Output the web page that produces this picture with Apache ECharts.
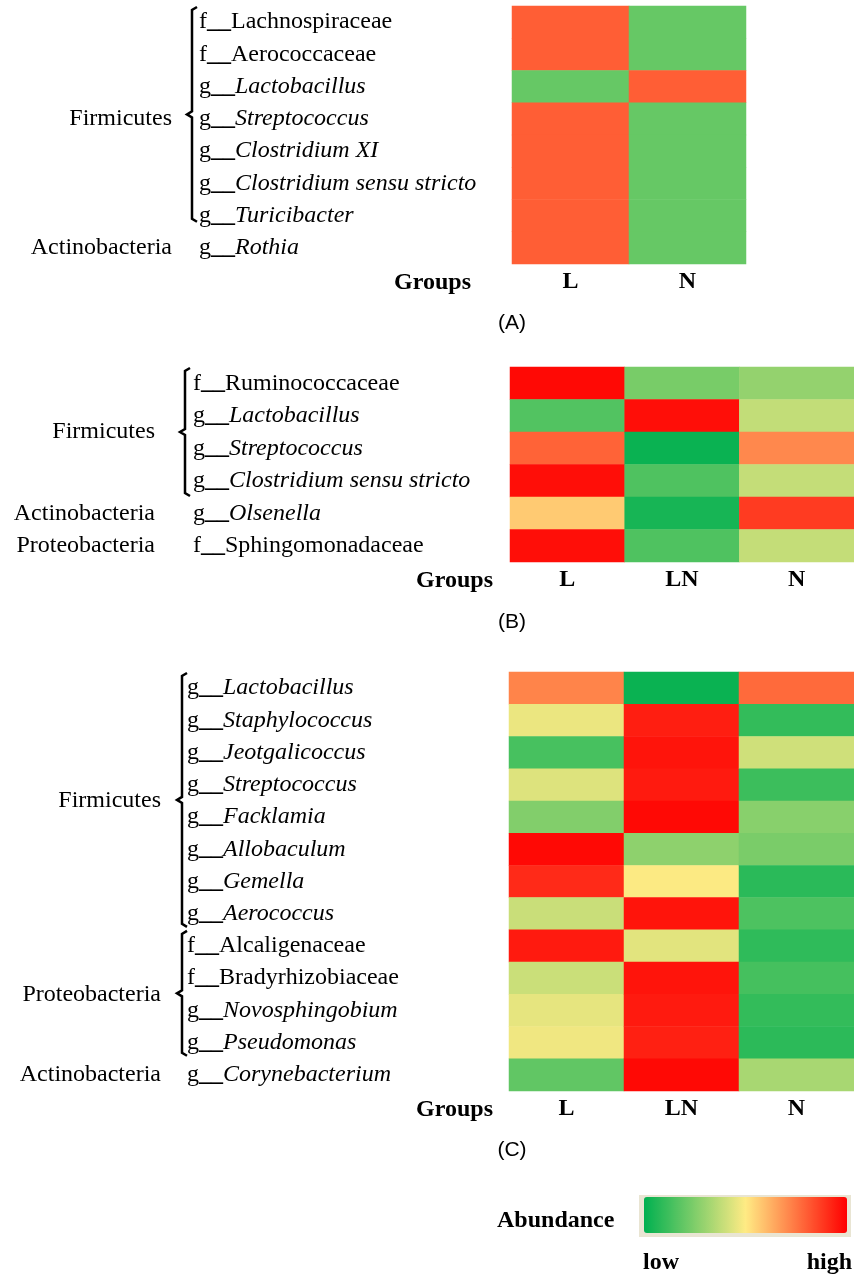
<!DOCTYPE html>
<html><head><meta charset="utf-8">
<script src="https://cdn.jsdelivr.net/npm/echarts@6/dist/echarts.min.js"></script>
<style>html,body{margin:0;padding:0;background:#fff}#c{width:854px;height:1278px}</style>
</head><body><div id="c"></div>
<script>
// ---------- data ----------
const groupsA = ['L', 'N'];
const rowsA = ['f__Lachnospiraceae', 'f__Aerococcaceae', 'g__Lactobacillus', 'g__Streptococcus',
  'g__Clostridium XI', 'g__Clostridium sensu stricto', 'g__Turicibacter', 'g__Rothia'];
const valuesA_L = [0.8, 0.8, 0.2, 0.8, 0.8, 0.8, 0.8, 0.8];
const valuesA_N = [0.2, 0.2, 0.8, 0.2, 0.2, 0.2, 0.2, 0.2];
const phylaA = [['Firmicutes', 0, 6], ['Actinobacteria', 7, 7]];

const groupsB = ['L', 'LN', 'N'];
const rowsB = ['f__Ruminococcaceae', 'g__Lactobacillus', 'g__Streptococcus',
  'g__Clostridium sensu stricto', 'g__Olsenella', 'f__Sphingomonadaceae'];
const valuesB_L = [0.98, 0.16, 0.79, 0.97, 0.57, 0.97];
const valuesB_LN = [0.235, 0.97, 0.02, 0.155, 0.045, 0.155];
const valuesB_N = [0.29, 0.38, 0.71, 0.385, 0.875, 0.385];
const phylaB = [['Firmicutes', 0, 3], ['Actinobacteria', 4, 4], ['Proteobacteria', 5, 5]];

const groupsC = ['L', 'LN', 'N'];
const rowsC = ['g__Lactobacillus', 'g__Staphylococcus', 'g__Jeotgalicoccus', 'g__Streptococcus',
  'g__Facklamia', 'g__Allobaculum', 'g__Gemella', 'g__Aerococcus', 'f__Alcaligenaceae',
  'f__Bradyrhizobiaceae', 'g__Novosphingobium', 'g__Pseudomonas', 'g__Corynebacterium'];
const valuesC_L = [0.72, 0.46, 0.14, 0.433, 0.255, 0.98, 0.91, 0.394, 0.945, 0.397, 0.45, 0.47, 0.19];
const valuesC_LN = [0.02, 0.936, 0.957, 0.945, 0.98, 0.278, 0.494, 0.957, 0.443, 0.957, 0.945, 0.932, 0.98];
const valuesC_N = [0.775, 0.1, 0.405, 0.118, 0.267, 0.24, 0.082, 0.15, 0.092, 0.135, 0.1, 0.086, 0.33];
const phylaC = [['Firmicutes', 0, 7], ['Proteobacteria', 8, 11], ['Actinobacteria', 12, 12]];

const panelTags = ['(A)', '(B)', '(C)'];
const axisTitle = 'Groups';
const legendTitle = 'Abundance';
const legendEnds = ['low', 'high'];
const scaleColors = ['#00b050', '#ffeb84', '#ff0000'];

// ---------- layout ----------
const SERIF = '"Liberation Serif", "Times New Roman", serif';
const SANS = '"Liberation Sans", Arial, sans-serif';
const panels = [
  { groups: groupsA, rows: rowsA, vals: [valuesA_L, valuesA_N], phyla: phylaA,
    grid: { left: 512, top: 6, width: 234, height: 258 }, labelX: 199, braceX: 192, phylumRight: 172, groupsRight: 471, tagY: 323, braceTopInset: 1, braceBottomInset: 10 },
  { groups: groupsB, rows: rowsB, vals: [valuesB_L, valuesB_LN, valuesB_N], phyla: phylaB,
    grid: { left: 510, top: 367, width: 348, height: 195 }, labelX: 193, braceX: 185, phylumRight: 155, groupsRight: 493, tagY: 622, braceTopInset: 1, braceBottomInset: 1 },
  { groups: groupsC, rows: rowsC, vals: [valuesC_L, valuesC_LN, valuesC_N], phyla: phylaC,
    grid: { left: 509, top: 672, width: 348, height: 419 }, labelX: 187, braceX: 182, phylumRight: 161, groupsRight: 493, tagY: 1150, braceTopInset: 1, braceBottomInset: 3 }
];

function fmt(v) {
  const p = v.slice(0, 1), rest = v.slice(3);
  return p === 'g' ? '{n|g}{u|__}{i|' + rest + '}' : '{n|f}{u|__}{n|' + rest + '}';
}
const rich = {
  n: { fontFamily: SERIF, fontSize: 24, color: '#000' },
  u: { fontFamily: SERIF, fontSize: 24, color: '#000', fontWeight: 'bold' },
  i: { fontFamily: SERIF, fontSize: 24, color: '#000', fontStyle: 'italic' }
};

const option = {
  backgroundColor: '#fff',
  animation: false,
  grid: panels.map(p => Object.assign({ containLabel: false }, p.grid)),
  xAxis: panels.map((p, k) => ({
    type: 'category', gridIndex: k, data: p.groups, position: 'bottom',
    axisLine: { show: false }, axisTick: { show: false }, splitLine: { show: false },
    axisLabel: { margin: 6, fontFamily: SERIF, fontSize: 24, fontWeight: 'bold', color: '#000' }
  })),
  yAxis: panels.map((p, k) => ({
    type: 'category', gridIndex: k, data: p.rows, inverse: true,
    axisLine: { show: false }, axisTick: { show: false }, splitLine: { show: false },
    axisLabel: { interval: 0, align: 'left', margin: p.grid.left - p.labelX, formatter: fmt, rich: rich }
  })),
  visualMap: {
    type: 'continuous', min: 0, max: 1, seriesIndex: [0, 1, 2],
    orient: 'horizontal', left: 639, top: 1195,
    itemWidth: 36, itemHeight: 203, text: null, calculable: false, hoverLink: false,
    padding: [2, 4, 4, 5], backgroundColor: '#e9e5d3',
    inRange: { color: scaleColors }
  },
  series: panels.map((p, k) => {
    const data = [];
    p.vals.forEach((col, j) => col.forEach((v, i) => data.push([j, i, v])));
    return { type: 'heatmap', xAxisIndex: k, yAxisIndex: k, data: data,
      itemStyle: { borderWidth: 0 }, emphasis: { disabled: true } };
  })
};

const chart = echarts.init(document.getElementById('c'), null, { renderer: 'canvas' });
chart.setOption(option);

// ---------- annotations tied to the axes ----------
const g = [];
panels.forEach((p, k) => {
  const c0 = chart.convertToPixel({ xAxisIndex: k, yAxisIndex: k }, [0, 0]);
  const c1 = chart.convertToPixel({ xAxisIndex: k, yAxisIndex: k }, [0, 1]);
  const h = c1[1] - c0[1];
  const rowY = i => chart.convertToPixel({ xAxisIndex: k, yAxisIndex: k }, [0, i])[1];
  p.phyla.forEach(([name, from, to]) => {
    const mid = (rowY(from) + rowY(to)) / 2;
    g.push({ type: 'text', x: p.phylumRight, y: mid,
      style: { text: name, font: '24px ' + SERIF, fill: '#000', align: 'right', verticalAlign: 'middle' } });
    if (to > from) {
      const x = p.braceX;
      const t = rowY(from) - h / 2 + p.braceTopInset;
      const b = rowY(to) + h / 2 - p.braceBottomInset;
      const m = (t + b) / 2;
      g.push({ type: 'polyline',
        shape: { points: [[x + 5, t], [x, t + 3], [x, m - 3], [x - 5, m], [x, m + 3], [x, b - 3], [x + 5, b]] },
        style: { stroke: '#000', lineWidth: 2.5, fill: null } });
    }
  });
  const bottom = p.grid.top + p.grid.height;
  g.push({ type: 'text', x: p.groupsRight, y: bottom + 19,
    style: { text: axisTitle, font: 'bold 24px ' + SERIF, fill: '#000', align: 'right', verticalAlign: 'middle' } });
  g.push({ type: 'text', x: 512, y: p.tagY,
    style: { text: panelTags[k], font: '21px ' + SANS, fill: '#000', align: 'center', verticalAlign: 'middle' } });
});
g.push({ type: 'text', x: 497, y: 1221,
  style: { text: legendTitle, font: 'bold 24px ' + SERIF, fill: '#000', align: 'left', verticalAlign: 'middle' } });
g.push({ type: 'text', x: 643, y: 1263,
  style: { text: legendEnds[0], font: 'bold 24px ' + SERIF, fill: '#000', align: 'left', verticalAlign: 'middle' } });
g.push({ type: 'text', x: 852, y: 1263,
  style: { text: legendEnds[1], font: 'bold 24px ' + SERIF, fill: '#000', align: 'right', verticalAlign: 'middle' } });
chart.setOption({ graphic: g });
</script>
</body></html>
